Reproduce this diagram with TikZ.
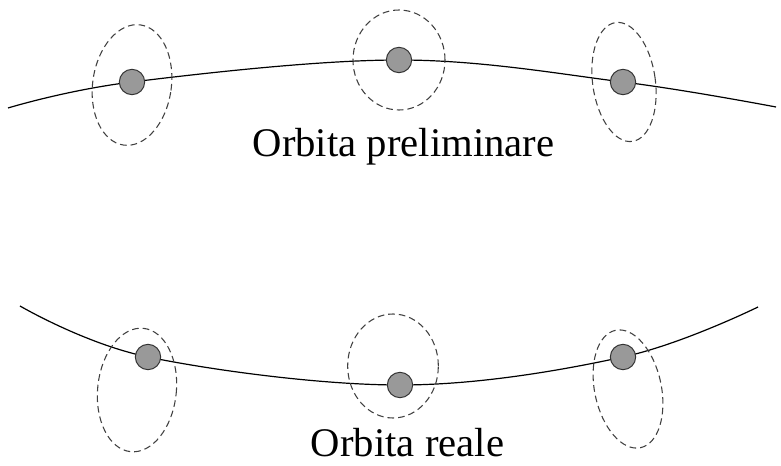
\documentclass[tikz,border=0pt]{standalone}
\usepackage{fontspec}
\setmainfont{Liberation Serif}
\begin{document}
\begin{tikzpicture}[x=0.75pt,y=-0.75pt,
  orbit/.style={line width=0.9pt},
  region/.style={line width=0.8pt,dash pattern=on 5pt off 3pt,black!75},
  body/.style={circle,draw=black!80,line width=0.75pt,fill=black!40,minimum size=19pt,inner sep=0pt},
  caption/.style={anchor=base,font=\fontsize{30.5}{36}\selectfont}]
\useasboundingbox (0,0) rectangle (781,466);

% preliminary orbit
\coordinate (ps) at (8,108);
\coordinate (pa) at (132,82);
\coordinate (pb) at (399,60);
\coordinate (pc) at (623,82);
\coordinate (pe) at (776,107);
\draw[orbit] plot[smooth,tension=0.6] coordinates {(ps) (pa) (pb) (pc) (pe)};
\draw[region,rotate around={-8:(132,85)}] (132,85) ellipse [x radius=29.5pt,y radius=45.5pt];
\draw[region] (399,60) ellipse [x radius=34.5pt,y radius=37.5pt];
\draw[region,rotate around={8:(624,82)}] (624,82) ellipse [x radius=23.5pt,y radius=45pt];
\node[body] (p1) at (pa) {};
\node[body] (p2) at (pb) {};
\node[body] (p3) at (pc) {};
\node[caption] (plabel) at (403.5,157) {Orbita preliminare};

% real orbit
\coordinate (rs) at (20,306);
\coordinate (ra) at (148,357);
\coordinate (rb) at (400,385);
\coordinate (rc) at (623,357);
\coordinate (re) at (758,307);
\draw[orbit] plot[smooth,tension=0.6] coordinates {(rs) (ra) (rb) (rc) (re)};
\draw[region,rotate around={-6:(137,390)}] (137,390) ellipse [x radius=29.5pt,y radius=46.5pt];
\draw[region] (393,366) ellipse [x radius=34pt,y radius=39pt];
\draw[region,rotate around={12:(628,389)}] (628,389) ellipse [x radius=25pt,y radius=45pt];
\node[body] (r1) at (ra) {};
\node[body] (r2) at (rb) {};
\node[body] (r3) at (rc) {};
\node[caption] (rlabel) at (407.5,456) {Orbita reale};
\end{tikzpicture}
\end{document}
